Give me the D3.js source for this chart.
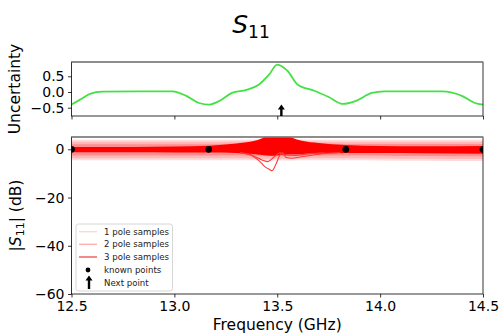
<!DOCTYPE html>
<html>
<head>
<meta charset="utf-8">
<script src="https://cdn.jsdelivr.net/npm/d3@7/dist/d3.min.js"></script>
<style>
  body { margin: 0; background: #fff; }
  svg { display: block; font-family: "DejaVu Sans", sans-serif; }
</style>
</head>
<body>
<figure id="chart" style="margin:0"></figure>
<script>
// frequency axis
const freqTicks = [12.5, 13.0, 13.5, 14.0, 14.5];
const uncTicks = [-0.5, 0.0, 0.5];
const dbTicks = [-60, -40, -20, 0];

// uncertainty curve (top panel)
const uncFreq = [12.5, 12.54, 12.59, 12.65, 12.82, 12.99, 13.06, 13.12, 13.17, 13.22, 13.28, 13.35, 13.41, 13.46, 13.5,
                 13.55, 13.6, 13.68, 13.75, 13.82, 13.88, 13.96, 14.02, 14.3, 14.4, 14.46, 14.5];
const uncValue = [-0.40, -0.25, -0.06, 0.01, 0.02, 0.02, -0.13, -0.35, -0.40, -0.28, -0.03, 0.07, 0.23, 0.55, 0.87,
                  0.67, 0.23, 0.04, -0.16, -0.38, -0.29, -0.03, 0.02, 0.02, -0.13, -0.35, -0.40];

// sample envelopes (bottom panel), dB
const bandFreq = [12.5, 12.8, 13.0, 13.17, 13.3, 13.38, 13.43, 13.47, 13.5, 13.53, 13.57, 13.62, 13.7, 13.83, 14.0, 14.2, 14.5];
const onePoleUpper = [4.0, 4.0, 4.0, 4.0, 4.0, 4.1, 4.2, 4.3, 4.3, 4.3, 4.2, 4.1, 4.0, 4.0, 4.0, 4.0, 4.0];
const onePoleLower = [-4.5, -4.5, -4.5, -4.5, -4.5, -4.5, -4.6, -4.6, -4.6, -4.6, -4.6, -4.5, -4.5, -4.5, -4.6, -4.7, -4.8];
const twoPoleUpper = [3.1, 3.1, 3.1, 3.1, 3.2, 3.3, 3.4, 3.5, 3.5, 3.5, 3.4, 3.3, 3.2, 3.1, 3.1, 3.1, 3.1];
const twoPoleLower = [-3.7, -3.7, -3.7, -3.7, -3.7, -3.8, -3.9, -3.9, -3.9, -3.9, -3.9, -3.8, -3.7, -3.7, -3.8, -3.9, -4.0];
const midUpper = [2.1, 2.1, 2.1, 2.1, 2.3, 2.6, 2.9, 3.0, 3.0, 3.0, 2.9, 2.7, 2.4, 2.2, 2.2, 2.2, 2.2];
const midLower = [-2.6, -2.6, -2.6, -2.6, -2.6, -2.7, -2.8, -2.9, -2.9, -2.9, -2.8, -2.7, -2.6, -2.6, -2.7, -2.8, -2.9];
const threePoleUpper = [1.0, 1.0, 1.2, 1.5, 2.4, 3.3, 4.7, 6.5, 7.0, 6.5, 4.9, 3.5, 2.6, 1.8, 1.4, 1.3, 1.4];
const threePoleLower = [-1.25, -1.25, -1.3, -1.3, -1.5, -2.0, -2.4, -2.7, -2.6, -2.3, -2.1, -1.9, -1.7, -1.5, -1.5, -1.6, -1.8];

// individual 3 pole samples with dips near 13.5 GHz
const dipAFreq = [13.32, 13.37, 13.416, 13.44, 13.465, 13.474, 13.494, 13.513, 13.528, 13.543, 13.572, 13.611, 13.659, 13.732, 13.805];
const dipADb = [-1.5, -2.35, -5.1, -7.2, -8.5, -8.9, -6.1, -2.35, -1.5, -3.4, -3.7, -3.2, -2.6, -1.7, -1.3];
const dipBFreq = [13.32, 13.368, 13.426, 13.455, 13.484, 13.513, 13.538, 13.586, 13.659, 13.73];
const dipBDb = [-1.4, -2.2, -4.4, -5.1, -3.2, -1.5, -2.35, -2.5, -1.8, -1.4];

// known points and next point
const knownFreq = [12.5, 13.1667, 13.8333, 14.5];
const knownDb = [0, 0, 0, 0];
const nextFreq = 13.52;

const legendLabels = ["1 pole samples", "2 pole samples", "3 pole samples", "known points", "Next point"];

const width = 502, height = 336;
const left = 71.5, right = 483;

const svg = d3.select("figure#chart")
  .append("svg")
  .attr("width", width)
  .attr("height", height);

const x = d3.scaleLinear().domain([12.5, 14.5]).range([left, right]);
const yTop = d3.scaleLinear().domain([-0.764, 0.955]).range([116, 62]);
const yBot = d3.scaleLinear().domain([-60, 5.1]).range([294, 137]);

// clip paths
const defs = svg.append("defs");
defs.append("clipPath").attr("id", "clipTop")
  .append("rect").attr("x", left).attr("y", 62).attr("width", right - left).attr("height", 54);
defs.append("clipPath").attr("id", "clipBot")
  .append("rect").attr("x", left).attr("y", 137).attr("width", right - left).attr("height", 157);

// title
const title = svg.append("text")
  .attr("x", 251).attr("y", 33)
  .attr("text-anchor", "middle")
  .style("font-size", "25px");
title.append("tspan").style("font-style", "italic").text("S");
title.append("tspan").attr("dy", 5).style("font-size", "17px").text("11");

// ---------- top panel ----------
const topPanel = svg.append("g");
const topPlot = topPanel.append("g").attr("clip-path", "url(#clipTop)");

const uncLine = d3.line()
  .x((d, i) => x(uncFreq[i]))
  .y(d => yTop(d))
  .curve(d3.curveMonotoneX);
topPlot.append("path")
  .attr("d", uncLine(uncValue))
  .attr("fill", "none")
  .attr("stroke", "#44e044")
  .attr("stroke-width", 1.8);

function drawArrow(g, cx, yBase, yTip) {
  const head = 5, half = 3.5, shaft = 1.2;
  g.append("path")
    .attr("d", `M${cx - shaft},${yBase} L${cx - shaft},${yTip + head} L${cx - half},${yTip + head} L${cx},${yTip}
                L${cx + half},${yTip + head} L${cx + shaft},${yTip + head} L${cx + shaft},${yBase} Z`)
    .attr("fill", "#000");
}
drawArrow(topPanel, x(nextFreq), 116, 104.5);

topPanel.append("g")
  .attr("transform", `translate(${left},0)`)
  .call(d3.axisLeft(yTop).tickValues(uncTicks).tickFormat(d3.format(".1f")).tickSize(3.5).tickPadding(3.5));
topPanel.append("g")
  .attr("transform", "translate(0,116)")
  .call(d3.axisBottom(x).tickValues(freqTicks).tickFormat("").tickSize(3.5));

function frame(g, y0, h) {
  g.append("rect")
    .attr("x", left).attr("y", y0).attr("width", right - left).attr("height", h)
    .attr("fill", "none").attr("stroke", "#000").attr("stroke-width", 0.8);
  g.append("line")
    .attr("x1", left).attr("x2", right).attr("y1", y0).attr("y2", y0)
    .attr("stroke", "#8a8a8a").attr("stroke-width", 1.4);
}
frame(topPanel, 62, 54);

topPanel.append("text")
  .attr("transform", "translate(19.5,89) rotate(-90)")
  .attr("text-anchor", "middle")
  .style("font-size", "15.5px")
  .text("Uncertainty");

// ---------- bottom panel ----------
const botPanel = svg.append("g");
const botPlot = botPanel.append("g").attr("clip-path", "url(#clipBot)");

function band(upper, lower, color) {
  const area = d3.area()
    .x((d, i) => x(bandFreq[i]))
    .y0((d, i) => yBot(lower[i]))
    .y1(d => yBot(d))
    .curve(d3.curveMonotoneX);
  botPlot.append("path").attr("d", area(upper)).attr("fill", color);
}
band(onePoleUpper, onePoleLower, "#ffdada");
band(twoPoleUpper, twoPoleLower, "#ffb8b8");
band(midUpper, midLower, "#ff8f8f");
band(threePoleUpper, threePoleLower, "#ff0000");

function sampleLine(fs, vals) {
  const line = d3.line()
    .x((d, i) => x(fs[i]))
    .y(d => yBot(d))
    .curve(d3.curveMonotoneX);
  botPlot.append("path")
    .attr("d", line(vals))
    .attr("fill", "none")
    .attr("stroke", "#ff3b3b")
    .attr("stroke-width", 1.1);
}
sampleLine(dipAFreq, dipADb);
sampleLine(dipBFreq, dipBDb);

botPlot.selectAll("circle.known")
  .data(knownFreq)
  .enter()
  .append("circle")
  .attr("class", "known")
  .attr("cx", d => x(d))
  .attr("cy", (d, i) => yBot(knownDb[i]))
  .attr("r", 3.4)
  .attr("fill", "#000");

botPanel.append("g")
  .attr("transform", `translate(${left},0)`)
  .call(d3.axisLeft(yBot).tickValues(dbTicks).tickFormat(d3.format("d")).tickSize(3.5).tickPadding(3.5));
botPanel.append("g")
  .attr("transform", "translate(0,294)")
  .call(d3.axisBottom(x).tickValues(freqTicks).tickFormat(d3.format(".1f")).tickSize(3.5).tickPadding(3.5));

frame(botPanel, 137, 157);

const yl = botPanel.append("text")
  .attr("transform", "translate(21,215.5) rotate(-90)")
  .attr("text-anchor", "middle")
  .style("font-size", "15.5px");
yl.append("tspan").text("|");
yl.append("tspan").style("font-style", "italic").text("S");
yl.append("tspan").attr("dy", 3).style("font-size", "11px").text("11");
yl.append("tspan").attr("dy", -3).text("| (dB)");

botPanel.append("text")
  .attr("x", (left + right) / 2).attr("y", 330)
  .attr("text-anchor", "middle")
  .style("font-size", "15.5px")
  .text("Frequency (GHz)");

// style axes
svg.selectAll(".domain").remove();
svg.selectAll(".tick line").attr("stroke", "#000").attr("stroke-width", 0.8);
svg.selectAll(".tick text")
  .style("font-family", "DejaVu Sans, sans-serif")
  .style("font-size", "14px")
  .attr("fill", "#000");

// ---------- legend ----------
const leg = botPanel.append("g");
leg.append("rect")
  .attr("x", 76).attr("y", 224).attr("width", 96.5).attr("height", 67)
  .attr("rx", 2.5)
  .attr("fill", "#fff").attr("fill-opacity", 0.8)
  .attr("stroke", "#cccccc").attr("stroke-width", 0.8);

const legColors = ["#ffd4d4", "#ffaaaa", "#f04848"];
const legY = [231.7, 244.3, 257, 270, 282.7];
legColors.forEach((c, i) => {
  leg.append("line")
    .attr("x1", 79).attr("x2", 97)
    .attr("y1", legY[i]).attr("y2", legY[i])
    .attr("stroke", c).attr("stroke-width", 1.3);
});
leg.append("circle").attr("cx", 88).attr("cy", legY[3]).attr("r", 2.4).attr("fill", "#000");
drawArrow(leg, 89, 289, 275.5);

leg.selectAll("text.lab")
  .data(legendLabels)
  .enter()
  .append("text")
  .attr("class", "lab")
  .attr("x", 104)
  .attr("y", (d, i) => legY[i] + 3)
  .style("font-size", "8.6px")
  .attr("fill", "#222")
  .text(d => d);
</script>
</body>
</html>
